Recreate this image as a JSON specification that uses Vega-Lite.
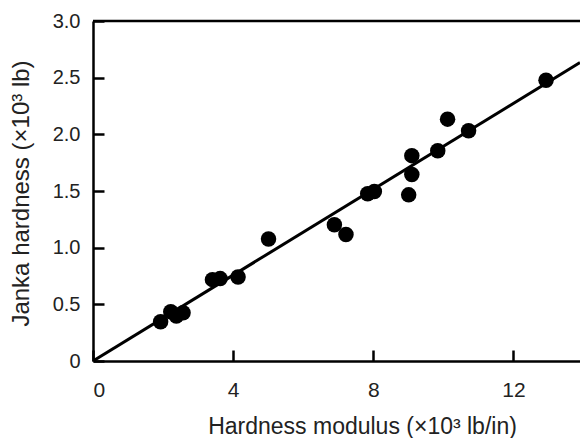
{
  "$schema": "https://vega.github.io/schema/vega-lite/v6.json",
  "width": 487,
  "height": 340,
  "autosize": {"type": "none"},
  "padding": {"left": 93, "top": 21, "right": 0, "bottom": 77},
  "background": "white",
  "config": {
    "view": {"stroke": null},
    "axis": {
      "grid": false,
      "domainColor": "black",
      "domainWidth": 2.5,
      "ticks": true,
      "tickColor": "black",
      "tickWidth": 2.5,
      "tickSize": -11,
      "labelFont": "Liberation Sans",
      "labelColor": "#222222",
      "titleFont": "Liberation Sans",
      "titleFontWeight": "normal",
      "titleColor": "#222222"
    }
  },
  "datasets": {
    "pts": [
      {"x": 1.93, "y": 0.346},
      {"x": 2.22, "y": 0.434},
      {"x": 2.38, "y": 0.396},
      {"x": 2.57, "y": 0.425},
      {"x": 3.41, "y": 0.718},
      {"x": 3.63, "y": 0.727},
      {"x": 4.14, "y": 0.742},
      {"x": 5.01, "y": 1.076},
      {"x": 6.89, "y": 1.202},
      {"x": 7.22, "y": 1.117},
      {"x": 7.84, "y": 1.475},
      {"x": 8.03, "y": 1.495},
      {"x": 9.01, "y": 1.466},
      {"x": 9.1, "y": 1.645},
      {"x": 9.1, "y": 1.812},
      {"x": 9.84, "y": 1.856},
      {"x": 10.12, "y": 2.134},
      {"x": 10.72, "y": 2.032},
      {"x": 12.93, "y": 2.477}
    ],
    "fit": [
      {"x": 0, "y": 0},
      {"x": 13.9, "y": 2.633}
    ]
  },
  "layer": [
    {
      "data": {"name": "fit"},
      "mark": {"type": "line", "color": "black", "strokeWidth": 3, "clip": true},
      "encoding": {
        "x": {
          "field": "x", "type": "quantitative",
          "scale": {"domain": [0, 13.9], "nice": false, "zero": true},
          "axis": {
            "values": [0, 4, 8, 12],
            "title": "Hardness modulus (×10³ lb/in)",
            "labelFontSize": 21,
            "labelPadding": 29,
            "titleFontSize": 23,
            "titleX": 269,
            "titleY": 72,
            "titleBaseline": "alphabetic"
          }
        },
        "y": {
          "field": "y", "type": "quantitative",
          "scale": {"domain": [0, 3], "nice": false},
          "axis": {
            "values": [0, 0.5, 1, 1.5, 2, 2.5, 3],
            "labelExpr": "datum.value == 0 ? '0' : format(datum.value, '.1f')",
            "title": "Janka hardness (×10³ lb)",
            "labelFontSize": 20,
            "labelPadding": 24,
            "titleFontSize": 24,
            "titleX": -60,
            "titleY": 172
          }
        }
      }
    },
    {
      "data": {"values": [{"top": 3}]},
      "mark": {"type": "rule", "color": "black", "strokeWidth": 2.5},
      "encoding": {"y": {"field": "top", "type": "quantitative"}}
    },
    {
      "data": {"name": "pts"},
      "mark": {"type": "circle", "color": "black", "opacity": 1, "size": 240},
      "encoding": {
        "x": {"field": "x", "type": "quantitative"},
        "y": {"field": "y", "type": "quantitative"}
      }
    }
  ]
}
